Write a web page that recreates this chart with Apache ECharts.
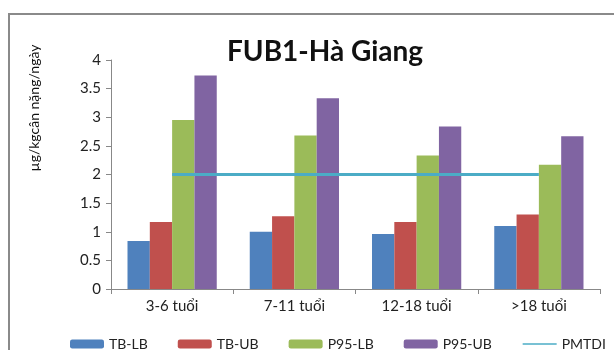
<!DOCTYPE html>
<html>
<head>
<meta charset="utf-8">
<script src="https://cdn.jsdelivr.net/npm/echarts@6/dist/echarts.min.js"></script>
<style>
  html, body { margin: 0; padding: 0; background: #fff; }
  #chart { width: 614px; height: 350px; }
</style>
</head>
<body>
<div id="chart"></div>
<script>
// Age groups on the category axis
const categories = ['3-6 tuổi', '7-11 tuổi', '12-18 tuổi', '>18 tuổi'];

// Estimated daily intake (µg/kg body weight/day)
const tbLb  = [0.84, 1.00, 0.96, 1.10];
const tbUb  = [1.17, 1.27, 1.17, 1.30];
const p95Lb = [2.95, 2.68, 2.33, 2.17];
const p95Ub = [3.73, 3.33, 2.84, 2.67];

// Provisional maximum tolerable daily intake
const pmtdi = [2, 2, 2, 2];

const seriesNames = ['TB-LB', 'TB-UB', 'P95-LB', 'P95-UB', 'PMTDI'];
const colors = ['#4F81BD', '#C0504D', '#9BBB59', '#8064A2', '#4BACC6'];
const yAxisTitle = 'µg/kgcân nặng/ngày';

const font = 'Lato, "Open Sans", "Liberation Sans", sans-serif';

const chart = echarts.init(document.getElementById('chart'));

function bar(name, data, color) {
  return {
    name, type: 'bar', data,
    itemStyle: { color },
    barGap: '0%',
    barCategoryGap: '27%'
  };
}

chart.setOption({
  animation: false,
  color: colors,
  textStyle: { fontFamily: font },
  title: {
    text: 'FUB1-Hà Giang',
    left: 222,
    top: 33,
    textStyle: { fontFamily: font, fontSize: 28, fontWeight: 'bold', color: '#111' }
  },
  graphic: [
    {
      type: 'rect',
      shape: { x: 9, y: 14, width: 700, height: 400 },
      style: { fill: 'none', stroke: '#8a8a8a', lineWidth: 2 },
      silent: true, z: -1
    },
    {
      // vertical axis title
      type: 'text',
      x: 34, y: 108,
      rotation: Math.PI / 2,
      style: {
        text: yAxisTitle,
        font: '14px ' + font,
        fill: '#111',
        textAlign: 'center',
        textVerticalAlign: 'middle'
      },
      silent: true
    }
  ],
  grid: { left: 111, right: 14, top: 60, bottom: 61 },
  legend: {
    data: seriesNames.slice(0, 4).concat([{ name: 'PMTDI', itemStyle: { opacity: 0 } }]),
    left: 65,
    top: 332,
    itemWidth: 34,
    itemHeight: 9,
    itemGap: 30,
    textStyle: { fontFamily: font, fontSize: 14, color: '#222' },
    lineStyle: { width: 1.5 }
  },
  xAxis: {
    type: 'category',
    data: categories,
    axisLine: { lineStyle: { color: '#888', width: 1 } },
    axisTick: { show: true, length: 5, lineStyle: { color: '#888' } },
    axisLabel: { fontFamily: font, fontSize: 15, color: '#222', margin: 10 }
  },
  yAxis: {
    type: 'value',
    min: 0, max: 4, interval: 0.5,
    axisLine: { show: true, lineStyle: { color: '#888', width: 1 } },
    axisTick: { show: true, length: 5, lineStyle: { color: '#888' } },
    splitLine: { show: false },
    axisLabel: { fontFamily: font, fontSize: 15, color: '#222', margin: 10 }
  },
  series: [
    bar('TB-LB', tbLb, colors[0]),
    bar('TB-UB', tbUb, colors[1]),
    bar('P95-LB', p95Lb, colors[2]),
    bar('P95-UB', p95Ub, colors[3]),
    {
      name: 'PMTDI', type: 'line', data: pmtdi,
      symbol: 'none',
      lineStyle: { color: colors[4], width: 3 },
      itemStyle: { color: colors[4] },
      z: 3
    }
  ]
});
</script>
</body>
</html>
